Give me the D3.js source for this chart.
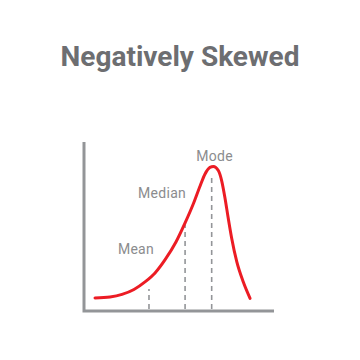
<!DOCTYPE html>
<html>
<meta charset="utf-8">
<style>
body { margin: 0; background: #fff; }
.title { font-family: Roboto, sans-serif; font-weight: bold; font-size: 28px; fill: #6d6e71; }
.lbl { font-family: Roboto, sans-serif; font-size: 14px; fill: #8b8c8e; letter-spacing: 0.3px; }
.axis { stroke: #939598; stroke-width: 3; fill: none; }
.curve { stroke: #ec1c24; stroke-width: 3; fill: none; stroke-linecap: round; }
.marker { stroke: #939598; stroke-width: 1.6; stroke-dasharray: 5,4; }
</style>
<body>
<svg width="360" height="360"></svg>
<script src="https://cdn.jsdelivr.net/npm/d3@7"></script>
<script>

var curveX = [5.8, 13.7, 20.0, 26.3, 32.1, 37.4, 42.6, 48.4, 53.2, 57.5, 61.1, 63.7, 66.3, 68.1, 70.7, 72.5, 74.2, 75.9, 77.7, 80.4, 83.8, 87.4];
var curveY = [7.7, 8.3, 9.8, 12.7, 17.2, 22.5, 30.2, 40.8, 52.1, 63.3, 74.0, 81.1, 85.0, 85.5, 83.1, 76.9, 66.9, 55.0, 43.2, 29.2, 17.3, 7.5];

var markerNames = ["Mean", "Median", "Mode"];
var markerX = [34.2, 53.2, 67.2];
var markerTop = [13, 50.9, 79.3];

var svg = d3.select("svg");

var x = d3.scaleLinear().domain([0, 100]).range([84, 274]);
var y = d3.scaleLinear().domain([0, 100]).range([311, 142]);

svg.append("text")
    .attr("class", "title")
    .attr("x", 180)
    .attr("y", 66)
    .attr("text-anchor", "middle")
    .text("Negatively Skewed");

// dashed markers
svg.selectAll(".marker")
    .data(markerX)
  .enter().append("line")
    .attr("class", "marker")
    .attr("x1", function(d) { return x(d); })
    .attr("x2", function(d) { return x(d); })
    .attr("y1", y(0) - 2)
    .attr("y2", function(d, i) { return y(markerTop[i]); });

// labels, nudged off the curve
var dx = [-13, -23, 3];
var dy = [-35, -27, -16];
svg.selectAll(".lbl")
    .data(markerNames)
  .enter().append("text")
    .attr("class", "lbl")
    .attr("text-anchor", "middle")
    .attr("x", function(d, i) { return x(markerX[i]) + dx[i]; })
    .attr("y", function(d, i) { return y(markerTop[i]) + dy[i]; })
    .text(function(d) { return d; });

var line = d3.line()
    .x(function(d) { return x(d[0]); })
    .y(function(d) { return y(d[1]); })
    .curve(d3.curveMonotoneX);

svg.append("path")
    .attr("class", "curve")
    .attr("d", line(d3.zip(curveX, curveY)));

// axes
svg.append("path")
    .attr("class", "axis")
    .attr("d", "M" + x(0) + "," + y(100) + "V" + y(0) + "H" + x(100));

</script>
</body>
</html>
